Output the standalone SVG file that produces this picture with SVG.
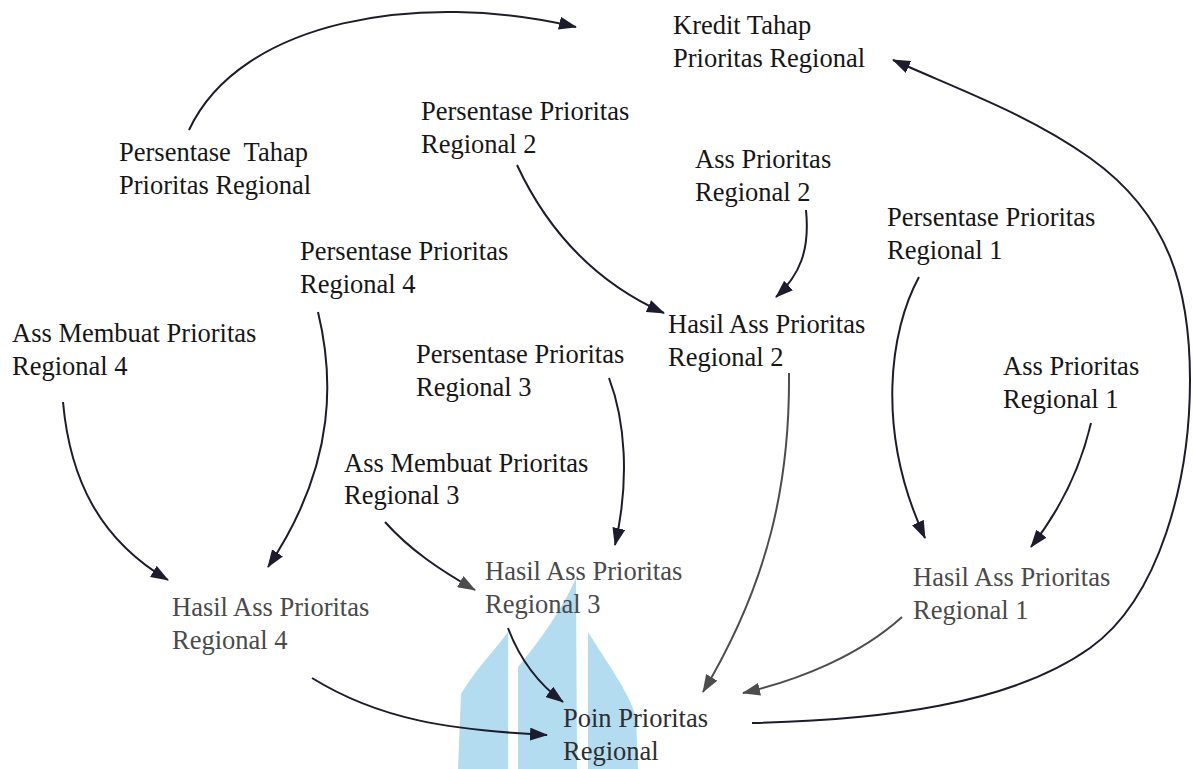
<svg xmlns="http://www.w3.org/2000/svg" width="1193" height="769" viewBox="0 0 1193 769">
  <style>
    .lbl { font-family: "Liberation Serif", "Times New Roman", serif; font-size: 26.5px; fill: #161616; }
    .soft { fill: #4a4a4a; }
    .mid { fill: #2e2e2e; }
    .wire { fill: none; stroke: #1c1c2c; stroke-width: 2; }
    .wire-gray { fill: none; stroke: #4d4d4d; stroke-width: 2; }
  </style>
  <defs>
    <marker id="head" viewBox="0 0 18 13" refX="17" refY="6.5" markerWidth="18" markerHeight="13" markerUnits="userSpaceOnUse" orient="auto">
      <path d="M0,0 L18,6.5 L0,13 z" fill="#1c1c2c"/>
    </marker>
    <marker id="head-gray" viewBox="0 0 18 13" refX="17" refY="6.5" markerWidth="18" markerHeight="13" markerUnits="userSpaceOnUse" orient="auto">
      <path d="M0,0 L18,6.5 L0,13 z" fill="#4d4d4d"/>
    </marker>
  </defs>

  <rect width="1193" height="769" fill="#ffffff"/>

  <!-- pale blue emblem behind the lower centre -->
  <g id="emblem" fill="#b3dcf0">
    <path d="M458,769 L461,694 C475,670 495,650 508,632 L508,769 z"/>
    <path d="M518,769 L518,667 C540,640 562,610 576,578 L577,769 z"/>
    <path d="M588,769 L588,632 C605,660 628,690 636,717 L638,769 z"/>
  </g>

  <!-- connectors -->
  <g id="connectors">
    <path class="wire" d="M189,130 C240,20 420,-10 576,27" marker-end="url(#head)"/>
    <path class="wire" d="M752,723 C880,720 1010,705 1090,648 C1160,598 1190,480 1190,380 C1190,290 1170,215 1090,158 C1030,115 960,90 893,60" marker-end="url(#head)"/>
    <path class="wire" d="M517,165 C545,225 590,280 664,313" marker-end="url(#head)"/>
    <path class="wire" d="M806,210 C810,250 800,275 776,297" marker-end="url(#head)"/>
    <path class="wire" d="M919,277 C890,330 875,430 925,538" marker-end="url(#head)"/>
    <path class="wire" d="M1091,423 C1080,470 1060,510 1031,547" marker-end="url(#head)"/>
    <path class="wire" d="M63,402 C70,480 100,540 168,580" marker-end="url(#head)"/>
    <path class="wire" d="M318,312 C332,370 340,460 268,567" marker-end="url(#head)"/>
    <path class="wire" d="M609,378 C625,420 630,480 615,545" marker-end="url(#head)"/>
    <path class="wire" d="M385,522 C410,550 440,570 475,590" marker-end="url(#head-gray)"/>
    <path class="wire" d="M508,628 C520,660 540,685 563,702" marker-end="url(#head)"/>
    <path class="wire-gray" d="M789,373 C790,480 770,580 703,692" marker-end="url(#head-gray)"/>
    <path class="wire-gray" d="M902,617 C860,655 800,680 743,693" marker-end="url(#head-gray)"/>
    <path class="wire" d="M312,678 C380,720 450,730 547,735" marker-end="url(#head)"/>
  </g>

  <!-- nodes -->
  <g id="kredit-tahap">
    <text class="lbl" x="673" y="34">Kredit Tahap</text>
    <text class="lbl" x="673" y="67">Prioritas Regional</text>
  </g>
  <g id="persentase-tahap">
    <text class="lbl" x="119" y="161" xml:space="preserve">Persentase  Tahap</text>
    <text class="lbl" x="119" y="194">Prioritas Regional</text>
  </g>
  <g id="persentase-r2">
    <text class="lbl" x="421" y="120">Persentase Prioritas</text>
    <text class="lbl" x="421" y="153">Regional 2</text>
  </g>
  <g id="ass-r2">
    <text class="lbl" x="695" y="168">Ass Prioritas</text>
    <text class="lbl" x="695" y="201">Regional 2</text>
  </g>
  <g id="persentase-r1">
    <text class="lbl" x="887" y="226">Persentase Prioritas</text>
    <text class="lbl" x="887" y="259">Regional 1</text>
  </g>
  <g id="persentase-r4">
    <text class="lbl" x="300" y="260">Persentase Prioritas</text>
    <text class="lbl" x="300" y="293">Regional 4</text>
  </g>
  <g id="ass-membuat-r4">
    <text class="lbl" x="12" y="342">Ass Membuat Prioritas</text>
    <text class="lbl" x="12" y="375">Regional 4</text>
  </g>
  <g id="hasil-r2">
    <text class="lbl" x="668" y="333">Hasil Ass Prioritas</text>
    <text class="lbl" x="668" y="366">Regional 2</text>
  </g>
  <g id="persentase-r3">
    <text class="lbl" x="416" y="363">Persentase Prioritas</text>
    <text class="lbl" x="416" y="396">Regional 3</text>
  </g>
  <g id="ass-r1">
    <text class="lbl" x="1003" y="375">Ass Prioritas</text>
    <text class="lbl" x="1003" y="408">Regional 1</text>
  </g>
  <g id="ass-membuat-r3">
    <text class="lbl" x="344" y="472">Ass Membuat Prioritas</text>
    <text class="lbl" x="344" y="504">Regional 3</text>
  </g>
  <g id="hasil-r3">
    <text class="lbl soft" x="485" y="580">Hasil Ass Prioritas</text>
    <text class="lbl soft" x="485" y="613">Regional 3</text>
  </g>
  <g id="hasil-r1">
    <text class="lbl soft" x="913" y="586">Hasil Ass Prioritas</text>
    <text class="lbl soft" x="913" y="619">Regional 1</text>
  </g>
  <g id="hasil-r4">
    <text class="lbl soft" x="172" y="616">Hasil Ass Prioritas</text>
    <text class="lbl soft" x="172" y="649">Regional 4</text>
  </g>
  <g id="poin-prioritas">
    <text class="lbl mid" x="563" y="727">Poin Prioritas</text>
    <text class="lbl mid" x="563" y="760">Regional</text>
  </g>
</svg>
